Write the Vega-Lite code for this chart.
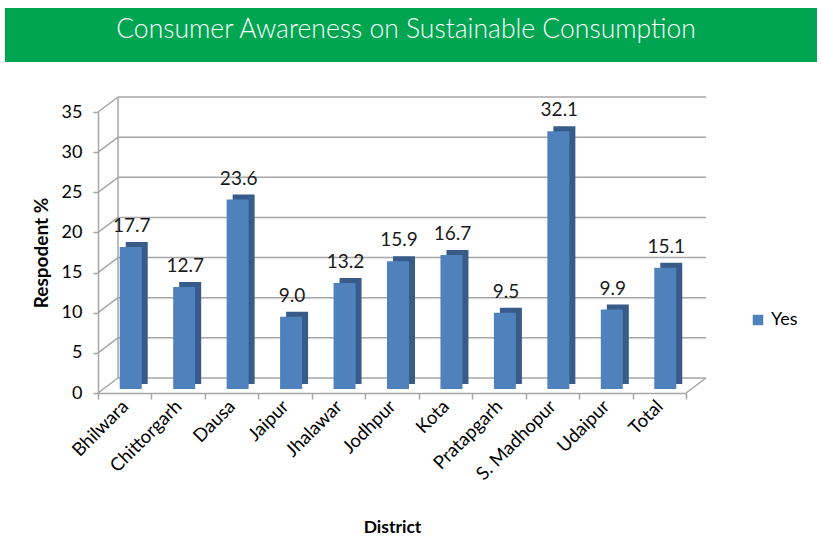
{
  "$schema": "https://vega.github.io/schema/vega-lite/v6.json",
  "background": "white",
  "padding": {"left": 5, "top": 8, "right": 5, "bottom": 0},
  "spacing": 34,
  "center": true,
  "config": {"font": "Lato", "view": {"stroke": null}},
  "datasets": {
    "awareness": [
      {"district": "Bhilwara", "pct": 17.7, "response": "Yes"},
      {"district": "Chittorgarh", "pct": 12.7, "response": "Yes"},
      {"district": "Dausa", "pct": 23.6, "response": "Yes"},
      {"district": "Jaipur", "pct": 9.0, "response": "Yes"},
      {"district": "Jhalawar", "pct": 13.2, "response": "Yes"},
      {"district": "Jodhpur", "pct": 15.9, "response": "Yes"},
      {"district": "Kota", "pct": 16.7, "response": "Yes"},
      {"district": "Pratapgarh", "pct": 9.5, "response": "Yes"},
      {"district": "S. Madhopur", "pct": 32.1, "response": "Yes"},
      {"district": "Udaipur", "pct": 9.9, "response": "Yes"},
      {"district": "Total", "pct": 15.1, "response": "Yes"}
    ],
    "grid": [{"v": 0}, {"v": 5}, {"v": 10}, {"v": 15}, {"v": 20}, {"v": 25}, {"v": 30}, {"v": 35}]
  },
  "vconcat": [
    {
      "width": 812,
      "height": 54,
      "view": {"fill": "#00A551", "stroke": null},
      "data": {"values": [{"title": "Consumer Awareness on Sustainable Consumption"}]},
      "mark": {"type": "text", "font": "Lato", "fontWeight": 300, "fontSize": 26.5, "color": "white", "dy": -5, "dx": -5},
      "encoding": {"text": {"field": "title"}}
    },
    {
      "width": 626,
      "height": 281,
      "layer": [
        {
          "data": {"name": "grid"},
          "mark": {"type": "rule", "color": "#A6A6A6", "strokeWidth": 1.5, "xOffset": 20, "x2Offset": 20, "yOffset": -15, "y2Offset": -15},
          "encoding": {
            "x": {"datum": "Bhilwara", "type": "nominal", "bandPosition": 0, "title": "District"},
            "x2": {"datum": "Total", "bandPosition": 1},
            "y": {
              "field": "v",
              "type": "quantitative",
              "title": "Respodent %",
              "scale": {"domain": [0, 35]},
              "axis": {
                "titleFontSize": 19,
                "titleFontWeight": "bold",
                "titleColor": "#000000",
                "titlePadding": 10,
                "values": [0, 5, 10, 15, 20, 25, 30, 35],
                "labelFontSize": 18,
                "labelColor": "#000000",
                "labelPadding": 11,
                "tickSize": 5,
                "tickColor": "#A6A6A6",
                "tickWidth": 1.5,
                "domainColor": "#A6A6A6",
                "domainWidth": 1.5,
                "grid": false
              }
            }
          }
        },
        {
          "data": {"name": "grid"},
          "mark": {"type": "rule", "color": "#A6A6A6", "strokeWidth": 1.5, "x2Offset": 20, "y2Offset": -15},
          "encoding": {
            "x": {
              "datum": "Bhilwara",
              "type": "nominal",
              "bandPosition": 0,
              "title": "District",
              "scale": {
                "domain": ["Bhilwara", "Chittorgarh", "Dausa", "Jaipur", "Jhalawar", "Jodhpur", "Kota", "Pratapgarh", "S. Madhopur", "Udaipur", "Total"],
                "range": [0, 588],
                "paddingInner": 0,
                "paddingOuter": 0
              },
              "axis": {
                "titleFontSize": 17.5,
                "titleFontWeight": "bold",
                "titleColor": "#000000",
                "titlePadding": 35,
                "titleX": 294,
                "labelAngle": -45,
                "labelAlign": "right",
                "labelBaseline": "middle",
                "labelFontSize": 18.5,
                "labelColor": "#000000",
                "labelPadding": 4,
                "tickBand": "extent",
                "tickSize": 6,
                "tickColor": "#A6A6A6",
                "tickWidth": 1.5,
                "domainColor": "#A6A6A6",
                "domainWidth": 1.5
              }
            },
            "x2": {"datum": "Bhilwara", "bandPosition": 0},
            "y": {"field": "v", "type": "quantitative", "title": "Respodent %"},
            "y2": {"field": "v"}
          }
        },
        {
          "data": {"values": [{"lo": 0, "hi": 35}]},
          "mark": {"type": "rule", "color": "#A6A6A6", "strokeWidth": 1.5, "xOffset": 20, "yOffset": -15, "y2Offset": -15},
          "encoding": {
            "x": {"datum": "Bhilwara", "type": "nominal", "bandPosition": 0, "title": "District"},
            "y": {"field": "lo", "type": "quantitative", "title": "Respodent %"},
            "y2": {"field": "hi"}
          }
        },
        {
          "data": {"values": [{"lo": 0}]},
          "mark": {"type": "rule", "color": "#A6A6A6", "strokeWidth": 1.5, "x2Offset": 20, "y2Offset": -15},
          "encoding": {
            "x": {"datum": "Total", "type": "nominal", "bandPosition": 1, "title": "District"},
            "x2": {"datum": "Total", "bandPosition": 1},
            "y": {"field": "lo", "type": "quantitative", "title": "Respodent %"},
            "y2": {"field": "lo"}
          }
        },
        {
          "data": {"name": "awareness"},
          "mark": {"type": "bar", "color": "#375C89", "width": 22, "xOffset": 12, "x2Offset": 12, "yOffset": -9, "y2Offset": -9},
          "encoding": {
            "x": {"field": "district", "type": "nominal", "title": "District"},
            "y": {"field": "pct", "type": "quantitative", "title": "Respodent %"}
          }
        },
        {
          "data": {"name": "awareness"},
          "mark": {"type": "bar", "width": 22, "xOffset": 6, "x2Offset": 6, "yOffset": -4, "y2Offset": -4},
          "encoding": {
            "x": {"field": "district", "type": "nominal", "title": "District"},
            "y": {"field": "pct", "type": "quantitative", "title": "Respodent %"},
            "color": {
              "field": "response",
              "type": "nominal",
              "scale": {"range": ["#4F81BD"]},
              "legend": {
                "title": null,
                "orient": "none",
                "legendX": 744,
                "legendY": 303,
                "symbolType": "square",
                "symbolSize": 110,
                "symbolStrokeWidth": 0,
                "labelFontSize": 18,
                "labelColor": "#000000"
              }
            }
          }
        },
        {
          "data": {"name": "awareness"},
          "mark": {"type": "text", "fontSize": 19, "color": "#1a1a1a", "baseline": "alphabetic", "xOffset": 7, "yOffset": -19},
          "encoding": {
            "x": {"field": "district", "type": "nominal", "title": "District"},
            "y": {"field": "pct", "type": "quantitative", "title": "Respodent %"},
            "text": {"field": "pct", "type": "quantitative", "format": ".1f"}
          }
        }
      ]
    }
  ]
}
